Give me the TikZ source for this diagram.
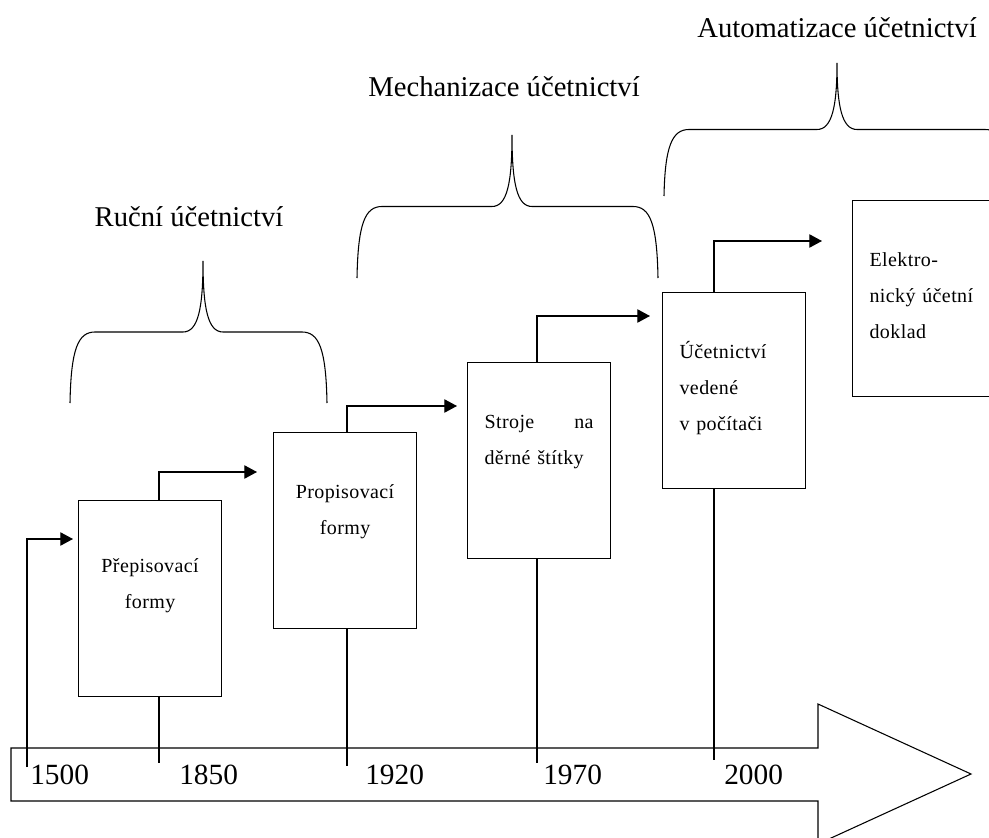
\documentclass[tikz,border=0pt]{standalone}
\usepackage{fontspec}
\setmainfont{Liberation Serif}
\newfontfamily\stagefont[LetterSpace=2]{Liberation Serif}
\usepackage{tikz}
\usetikzlibrary{positioning, arrows.meta, calc}
\tikzstyle{arrow} = [line width=0.9pt,->,>={Triangle[length=9.5pt,width=10pt]}]
\tikzstyle{link} = [line width=0.9pt]
\newcommand{\stagetext}{\stagefont\fontsize{15}{27}\selectfont}
% curly brace: left x, tip x, right x, foot y, tip y
\newcommand{\epochbrace}[5]{%
  \pgfmathsetmacro{\braceshoulder}{(#4+#5)/2}
  \draw[brace] (#1,#4) .. controls (#1+1,\braceshoulder+17) and (#1+8,\braceshoulder) .. (#1+25,\braceshoulder)
    -- (#2-20,\braceshoulder) .. controls (#2-5,\braceshoulder) and (#2,\braceshoulder-23) .. (#2,#5)
    .. controls (#2,\braceshoulder-23) and (#2+5,\braceshoulder) .. (#2+20,\braceshoulder)
    -- (#3-25,\braceshoulder) .. controls (#3-8,\braceshoulder) and (#3-1,\braceshoulder+17) .. (#3,#4);
}

\begin{document}
\begin{tikzpicture}[x=0.75pt,y=-0.75pt]
                    \tikzstyle{every node}=[font=\fontsize{22}{26}\selectfont]
                    \tikzstyle{stage} = [draw, line width=0.9pt, anchor=north west, inner xsep=12.75pt, inner ysep=0pt, text width=81.75pt, text height=49.5pt, text depth=97.5pt, align=left, font=\stagetext]
                    \tikzstyle{period} = [font=\fontsize{21.5}{26}\selectfont, anchor=base, inner sep=0pt]
                    \tikzstyle{year} = [anchor=base west, inner sep=0pt]
                    \tikzstyle{brace} = [line width=0.8pt]

                    \useasboundingbox (0,0) rectangle (989,838);
                    \clip (0,0) rectangle (989,838);

                    % time axis
                    \draw[line width=0.8pt] (11,748) -- (818,748) -- (818,704) -- (971,774) -- (818,844) -- (818,801) -- (11,801) -- cycle;
                    \node[year] (y1500) at (30,784) {1500};
                    \node[year] (y1850) at (179,784) {1850};
                    \node[year] (y1920) at (365,784) {1920};
                    \node[year] (y1970) at (543,784) {1970};
                    \node[year] (y2000) at (724,784) {2000};

                    % stages
                    \node[stage, align=center, text height=54pt, text depth=93pt] (b1) at (78,500) {Přepisovací\\formy};
                    \node[stage, align=center] (b2) at (273,432) {Propisovací\\formy};
                    \node[stage] (b3) at (467,362) {Stroje\hfill na\\děrné štítky};
                    \node[stage] (b4) at (662,292) {Účetnictví\\vedené\\v počítači};
                    \node[stage] (b5) at (852,200) {Elektro-\\nický účetní\\doklad};

                    \coordinate (m1500) at (27,767);
                    \coordinate (m1850) at (159,763);
                    \coordinate (m1920) at (347,766);
                    \coordinate (m1970) at (537,763);
                    \coordinate (m2000) at (714,760);
                    \coordinate (e1) at (73,539);
                    \coordinate (e2) at (257,472);
                    \coordinate (e3) at (457,406);
                    \coordinate (e4) at (650,316);
                    \coordinate (e5) at (822,241);

                    \draw[arrow] (m1500) |- (e1);
                    \draw[link] (b1.south -| m1850) -- (m1850);
                    \draw[arrow] (b1.north -| m1850) |- (e2);
                    \draw[link] (b2.south -| m1920) -- (m1920);
                    \draw[arrow] (b2.north -| m1920) |- (e3);
                    \draw[link] (b3.south -| m1970) -- (m1970);
                    \draw[arrow] (b3.north -| m1970) |- (e4);
                    \draw[link] (b4.south -| m2000) -- (m2000);
                    \draw[arrow] (b4.north -| m2000) |- (e5);

                    % periods
                    \epochbrace{70}{203}{327}{403}{261}
                    \epochbrace{357}{512}{658}{278}{135}
                    \epochbrace{664}{837}{1010}{196}{63}
                    \node[period] (manual) at (189,227) {Ruční účetnictví};
                    \node[period] (mechanical) at (504,97) {Mechanizace účetnictví};
                    \node[period] (automated) at (837,38) {Automatizace účetnictví};
\end{tikzpicture}
\end{document}
